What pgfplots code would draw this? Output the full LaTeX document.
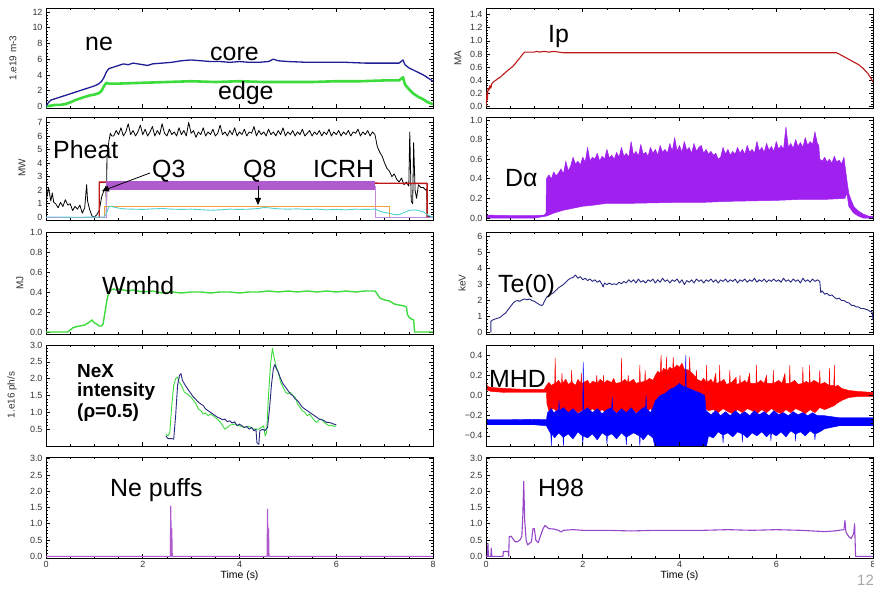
\documentclass[border=0pt]{standalone}
\usepackage{fontspec}
\setmainfont{Liberation Sans}
\usepackage{pgfplots}
\pgfplotsset{compat=1.18}
\usetikzlibrary{arrows.meta}
\definecolor{cblue}{RGB}{30,30,150}
\definecolor{cgreen}{RGB}{60,220,60}
\definecolor{cpurp}{RGB}{175,90,205}
\definecolor{cred}{RGB}{190,25,25}
\definecolor{corange}{RGB}{240,160,60}
\definecolor{ccyan}{RGB}{80,210,210}
\definecolor{cviol}{RGB}{160,32,240}
\definecolor{cnavy}{RGB}{40,40,130}
\definecolor{ch98}{RGB}{150,70,200}
\pgfplotsset{
  panel/.style={scale only axis, width=387bp, height=101bp, anchor=south west,
    xmin=0, xmax=8, xtick={0,2,4,6,8}, minor x tick num=3, xticklabels={},
    minor y tick num=4, tick align=inside,
    major tick length=4bp, minor tick length=2bp,
    axis line style={black, line width=0.8bp},
    every tick/.style={black, line width=0.6bp},
    ticklabel style={font=\fontsize{9}{9}\selectfont, text=black!80},
    /pgf/number format/assume math mode=true,
    every axis plot/.append style={line width=0.9bp, line join=round},
    clip=true},
  bottomrow/.style={xticklabels={0,2,4,6,8},
    xlabel={Time (s)}, xlabel style={font=\fontsize{10.5}{11}\selectfont, yshift=4bp}},
}
\newcommand\ann{\fontsize{25}{25}\selectfont}
\newcommand\ylab{\fontsize{10}{10}\selectfont\color{black!80}}
\begin{document}
\begin{tikzpicture}
\path[use as bounding box] (0,0) rectangle (874bp,591bp);
% ---------------- left column ----------------
\begin{axis}[panel, at={(46bp,483bp)}, height=100bp, ymin=-0.2, ymax=12.5,
  ytick={0,2,4,6,8,10,12}, yticklabels={0,2,4,6,8,10,12}]
\addplot[cgreen, line width=2.6bp] coordinates {(0,0)(0.1,0.1)(0.2,0.2)(0.3,0.2)(0.4,0.3)(0.5,0.5)(0.6,0.8)(0.7,1.0)(0.8,1.2)(0.9,1.4)(1.0,1.5)(1.1,1.7)(1.15,2.0)(1.2,2.6)(1.25,3.0)(1.3,2.9)(1.5,2.9)(2.0,3.0)(2.5,3.1)(3.0,3.2)(3.5,3.1)(4.0,3.2)(4.5,3.1)(5.0,3.1)(5.5,3.1)(6.0,3.2)(6.5,3.2)(7.0,3.3)(7.3,3.3)(7.38,3.7)(7.42,2.8)(7.5,2.2)(7.6,1.6)(7.7,1.2)(7.8,0.9)(7.9,0.5)(8.0,0.3)};
\addplot[cblue, line width=1.3bp] coordinates {(0,0)(0.05,0.5)(0.1,0.8)(0.2,1.0)(0.3,1.2)(0.4,1.4)(0.5,1.6)(0.6,1.8)(0.7,2.0)(0.8,2.2)(0.9,2.4)(1.0,2.6)(1.1,2.9)(1.15,3.2)(1.2,3.7)(1.25,4.4)(1.3,4.8)(1.4,5.0)(1.5,5.2)(1.6,5.4)(1.7,5.3)(1.8,5.5)(1.9,5.4)(2.0,5.3)(2.1,5.2)(2.2,5.4)(2.4,5.5)(2.6,5.6)(2.8,5.8)(3.0,5.9)(3.2,5.8)(3.4,5.7)(3.6,5.7)(3.8,5.6)(4.0,5.7)(4.2,5.6)(4.4,5.6)(4.6,5.7)(4.7,6.0)(4.8,5.8)(5.0,5.7)(5.4,5.6)(5.8,5.6)(6.2,5.6)(6.6,5.5)(7.0,5.5)(7.3,5.5)(7.38,5.9)(7.42,5.3)(7.5,4.9)(7.6,4.6)(7.7,4.3)(7.8,4.0)(7.9,3.6)(8.0,3.2)};
\end{axis}

\begin{axis}[panel, at={(46bp,371bp)}, height=103bp, ymin=-0.2, ymax=7.4,
  ytick={0,1,2,3,4,5,6,7}, yticklabels={0,1,2,3,4,5,6,7}]
\addplot[black, line width=0.8bp] coordinates {(0.0,2.0)(0.02,1.5)(0.05,2.2)(0.08,1.6)(0.1,1.2)(0.13,1.8)(0.16,1.1)(0.2,1.0)(0.25,0.7)(0.3,1.1)(0.35,0.8)(0.4,1.3)(0.45,0.9)(0.5,1.0)(0.55,0.5)(0.6,0.8)(0.65,0.6)(0.7,0.9)(0.75,0.3)(0.8,0.7)(0.84,2.4)(0.86,1.2)(0.9,0.6)(0.95,0.1)(1.0,0.0)(1.05,0.2)(1.1,0.5)(1.15,1.5)(1.2,2.0)(1.24,2.3)(1.25,0)(1.26,4.5)(1.3,5.6)(1.33,6.2)(1.36,6.0)(1.40,6.0)(1.45,6.4)(1.50,6.1)(1.55,6.6)(1.60,6.0)(1.65,6.3)(1.70,6.9)(1.75,6.1)(1.80,6.4)(1.85,6.0)(1.90,6.3)(1.95,6.8)(2.00,6.1)(2.05,6.5)(2.10,6.0)(2.15,6.3)(2.20,6.7)(2.25,6.0)(2.30,6.4)(2.35,6.1)(2.40,6.9)(2.45,6.2)(2.50,6.0)(2.55,6.5)(2.60,6.1)(2.65,6.3)(2.70,6.0)(2.75,6.6)(2.80,6.1)(2.85,6.4)(2.90,6.0)(2.95,7.0)(3.00,6.2)(3.05,6.4)(3.10,5.9)(3.15,6.3)(3.20,6.1)(3.25,6.6)(3.30,6.0)(3.35,6.3)(3.40,6.1)(3.45,6.5)(3.50,6.0)(3.55,6.2)(3.60,6.8)(3.65,6.1)(3.70,6.3)(3.75,6.0)(3.80,6.4)(3.85,6.1)(3.90,6.6)(3.95,6.0)(4.00,6.3)(4.05,6.1)(4.10,6.5)(4.15,6.0)(4.20,6.3)(4.25,6.2)(4.30,6.7)(4.35,6.0)(4.40,6.4)(4.45,6.1)(4.50,6.3)(4.55,6.0)(4.60,6.5)(4.65,6.1)(4.70,6.3)(4.75,6.0)(4.80,6.4)(4.85,6.1)(4.90,6.6)(4.95,6.0)(5.00,6.3)(5.05,6.1)(5.10,6.4)(5.15,6.0)(5.20,6.3)(5.25,6.1)(5.30,6.5)(5.35,6.0)(5.40,6.2)(5.45,6.4)(5.50,6.0)(5.55,6.3)(5.60,6.1)(5.65,6.4)(5.70,6.0)(5.75,6.3)(5.80,6.1)(5.85,6.5)(5.90,6.0)(5.95,6.3)(6.00,6.1)(6.05,6.4)(6.10,6.0)(6.15,6.3)(6.20,6.1)(6.25,6.4)(6.30,6.0)(6.35,6.3)(6.40,6.2)(6.45,6.5)(6.50,6.0)(6.55,6.3)(6.60,6.1)(6.65,6.4)(6.70,6.0)(6.75,6.3)(6.80,6.1)(6.85,5.2)(6.9,4.8)(6.95,4.5)(7.0,4.0)(7.05,3.6)(7.1,3.4)(7.15,3.0)(7.2,3.2)(7.25,2.8)(7.3,2.6)(7.35,2.9)(7.4,2.4)(7.45,2.6)(7.5,2.3)(7.52,6.3)(7.55,1.2)(7.58,1.0)(7.6,5.5)(7.63,2.0)(7.66,1.4)(7.7,2.4)(7.75,2.2)(7.8,2.2)(7.85,2.0)(7.87,2.1)(7.88,0.1)(8.0,0)};
\addplot[cpurp!70, line width=0.8bp] coordinates {(0,0.02)(1.25,0.02)(1.25,2.3)};
\addplot[cpurp!70, line width=0.8bp] coordinates {(6.8,2.3)(6.8,0.02)(8,0.02)};
\addplot[cred, line width=1.4bp] coordinates {(1.1,0)(1.1,2.6)(7.88,2.5)(7.88,0)};
\addplot[cpurp, line width=8.5bp] coordinates {(1.25,2.33)(6.8,2.33)};
\addplot[corange, line width=0.8bp] coordinates {(1.2,0)(1.2,0.82)(7.1,0.82)(7.1,0)};
\addplot[ccyan, line width=0.9bp] coordinates {(0,0.02)(0.3,0.02)(0.6,0.0)(1.2,0.02)(1.25,0.3)(1.3,0.8)(1.35,0.82)(1.4,0.75)(1.5,0.68)(1.6,0.62)(1.8,0.6)(2.0,0.58)(2.2,0.62)(2.4,0.65)(2.6,0.6)(2.8,0.58)(3.0,0.6)(3.2,0.56)(3.4,0.52)(3.6,0.55)(3.8,0.6)(4.0,0.58)(4.2,0.6)(4.4,0.65)(4.5,0.72)(4.6,0.7)(4.8,0.62)(5.0,0.6)(5.2,0.62)(5.4,0.58)(5.6,0.6)(5.8,0.55)(6.0,0.58)(6.2,0.55)(6.4,0.6)(6.6,0.58)(6.8,0.6)(6.9,0.45)(7.0,0.35)(7.1,0.3)(7.2,0.2)(7.3,0.2)(7.4,0.35)(7.5,0.5)(7.6,0.55)(7.7,0.5)(7.8,0.4)(7.9,0.15)(8.0,0.0)};
\end{axis}

\begin{axis}[panel, at={(46bp,257bp)}, height=102bp, ymin=-0.02, ymax=1.0,
  ytick={0,0.2,0.4,0.6,0.8,1.0}, yticklabels={0.0,0.2,0.4,0.6,0.8,1.0}]
\addplot[cgreen, line width=1.4bp] coordinates {(0,0)(0.45,0)(0.5,0.02)(0.55,0.04)(0.6,0.05)(0.7,0.06)(0.8,0.07)(0.9,0.1)(0.95,0.12)(1.0,0.09)(1.05,0.08)(1.1,0.06)(1.15,0.06)(1.18,0.08)(1.22,0.2)(1.26,0.32)(1.3,0.4)(1.35,0.42)(1.4,0.43)(1.45,0.42)(1.5,0.43)(1.6,0.42)(1.7,0.41)(1.8,0.42)(1.9,0.41)(2.0,0.4)(2.2,0.41)(2.4,0.39)(2.6,0.4)(2.8,0.39)(3.0,0.4)(3.2,0.4)(3.4,0.39)(3.6,0.4)(3.8,0.4)(4.0,0.39)(4.2,0.4)(4.4,0.4)(4.6,0.41)(4.8,0.4)(5.0,0.41)(5.2,0.4)(5.4,0.41)(5.6,0.4)(5.8,0.41)(6.0,0.4)(6.2,0.41)(6.4,0.4)(6.6,0.41)(6.8,0.41)(6.85,0.38)(6.9,0.34)(7.0,0.32)(7.1,0.31)(7.2,0.28)(7.3,0.27)(7.4,0.26)(7.45,0.25)(7.47,0.18)(7.5,0.15)(7.55,0.13)(7.6,0.12)(7.62,0)(8.0,0)};
\end{axis}

\begin{axis}[panel, at={(46bp,145bp)}, height=101bp, ymin=0, ymax=3.0,
  ytick={0.5,1.0,1.5,2.0,2.5,3.0}, yticklabels={0.5,1.0,1.5,2.0,2.5,3.0}]
\addplot[cgreen, line width=0.9bp] coordinates {(2.48,0.35)(2.52,0.3)(2.56,0.4)(2.6,1.2)(2.64,1.8)(2.68,2.0)(2.72,2.05)(2.75,1.9)(2.8,1.8)(2.86,1.6)(2.92,1.55)(3.0,1.45)(3.05,1.35)(3.1,1.25)(3.15,1.1)(3.2,1.05)(3.25,0.95)(3.3,0.98)(3.35,0.9)(3.4,0.95)(3.5,0.85)(3.6,0.72)(3.65,0.6)(3.7,0.5)(3.75,0.55)(3.8,0.62)(3.9,0.65)(4.0,0.6)(4.1,0.55)(4.2,0.58)(4.3,0.5)(4.4,0.5)(4.45,0.55)(4.5,0.6)(4.53,0.3)(4.56,0.4)(4.6,1.5)(4.64,2.4)(4.68,2.9)(4.72,2.6)(4.76,2.35)(4.8,2.2)(4.85,1.9)(4.9,1.75)(4.95,1.6)(5.0,1.55)(5.05,1.6)(5.1,1.5)(5.15,1.45)(5.2,1.25)(5.25,1.15)(5.3,1.05)(5.35,1.0)(5.4,0.9)(5.45,0.95)(5.5,0.85)(5.55,0.75)(5.6,0.7)(5.65,0.78)(5.7,0.8)(5.75,0.7)(5.8,0.65)(5.85,0.6)(5.9,0.62)(5.95,0.58)(6.0,0.6)};
\addplot[cnavy, line width=0.9bp] coordinates {(2.48,0.3)(2.52,0.22)(2.6,0.22)(2.64,0.2)(2.68,0.9)(2.72,1.8)(2.76,2.1)(2.79,2.15)(2.82,1.95)(2.88,1.8)(2.95,1.65)(3.0,1.55)(3.05,1.45)(3.1,1.38)(3.15,1.3)(3.2,1.25)(3.25,1.2)(3.3,1.1)(3.35,1.05)(3.4,1.0)(3.45,0.95)(3.5,0.9)(3.55,0.85)(3.6,0.82)(3.65,0.78)(3.7,0.8)(3.75,0.72)(3.8,0.75)(3.85,0.68)(3.9,0.72)(3.95,0.6)(4.0,0.65)(4.05,0.6)(4.1,0.55)(4.15,0.58)(4.2,0.5)(4.25,0.55)(4.3,0.45)(4.34,0.5)(4.36,0.1)(4.4,0.05)(4.42,0.45)(4.48,0.5)(4.52,0.45)(4.58,0.55)(4.62,1.1)(4.66,1.8)(4.7,2.3)(4.73,2.42)(4.76,2.3)(4.8,2.2)(4.85,2.0)(4.9,1.85)(4.95,1.75)(5.0,1.65)(5.05,1.55)(5.1,1.5)(5.15,1.4)(5.2,1.35)(5.25,1.25)(5.3,1.15)(5.35,1.1)(5.4,1.05)(5.45,1.0)(5.5,0.95)(5.55,0.9)(5.6,0.85)(5.65,0.8)(5.7,0.78)(5.75,0.75)(5.8,0.7)(5.85,0.7)(5.9,0.68)(5.95,0.65)(6.0,0.63)};
\end{axis}

\begin{axis}[panel, bottomrow, at={(46bp,33bp)}, height=101bp, ymin=-0.05, ymax=3.05,
  ytick={0,0.5,1.0,1.5,2.0,2.5,3.0}, yticklabels={0.0,0.5,1.0,1.5,2.0,2.5,3.0}]
\addplot[cpurp, line width=1.1bp] coordinates {(0,0)(2.57,0)(2.58,1.55)(2.59,0)(2.6,0.85)(2.61,0)(4.57,0)(4.58,1.45)(4.59,0)(4.6,0.85)(4.61,0)(8,0)};
\end{axis}

% ---------------- right column ----------------
\begin{axis}[panel, at={(486bp,483bp)}, height=100bp, ymin=-0.02, ymax=1.5,
  ytick={0,0.2,0.4,0.6,0.8,1.0,1.2,1.4}, yticklabels={0.0,0.2,0.4,0.6,0.8,1.0,1.2,1.4}]
\addplot[cred, line width=1.1bp] coordinates {(0,0)(0.02,0.22)(0.03,0.1)(0.04,0.28)(0.06,0.25)(0.08,0.32)(0.1,0.28)(0.12,0.35)(0.16,0.38)(0.2,0.4)(0.25,0.43)(0.3,0.45)(0.4,0.52)(0.5,0.58)(0.55,0.61)(0.6,0.65)(0.65,0.7)(0.7,0.74)(0.75,0.79)(0.8,0.83)(1.0,0.83)(1.05,0.84)(1.1,0.83)(1.2,0.84)(1.3,0.83)(1.4,0.84)(1.5,0.83)(1.6,0.82)(2.0,0.82)(3.0,0.82)(4.0,0.82)(5.0,0.82)(6.0,0.82)(7.0,0.82)(7.25,0.82)(7.3,0.8)(7.4,0.76)(7.5,0.72)(7.6,0.68)(7.7,0.64)(7.8,0.58)(7.9,0.5)(8.0,0.38)};
\end{axis}

\begin{axis}[panel, at={(486bp,371bp)}, height=103bp, ymin=-0.02, ymax=1.03,
  ytick={0,0.2,0.4,0.6,0.8,1.0}, yticklabels={0.0,0.2,0.4,0.6,0.8,1.0}, axis on top]
\addplot[cviol, fill=cviol, line width=0.5bp] coordinates {(0,0.03)(0.5,0.025)(1.0,0.025)(1.2,0.03)(1.24,0.05)
(1.25,0.40)(1.30,0.44)(1.35,0.40)(1.40,0.47)(1.45,0.43)(1.50,0.46)(1.55,0.50)(1.60,0.45)(1.65,0.58)(1.70,0.48)(1.75,0.53)(1.80,0.62)(1.85,0.55)(1.90,0.58)(1.95,0.54)(2.00,0.62)(2.05,0.57)(2.10,0.72)(2.15,0.58)(2.20,0.62)(2.25,0.60)(2.30,0.66)(2.35,0.58)(2.40,0.63)(2.45,0.60)(2.50,0.70)(2.55,0.61)(2.60,0.64)(2.65,0.60)(2.70,0.67)(2.75,0.62)(2.80,0.72)(2.85,0.63)(2.90,0.66)(2.95,0.62)(3.00,0.78)(3.05,0.64)(3.10,0.68)(3.15,0.63)(3.20,0.75)(3.25,0.65)(3.30,0.67)(3.35,0.63)(3.40,0.72)(3.45,0.66)(3.50,0.70)(3.55,0.64)(3.60,0.74)(3.65,0.67)(3.70,0.70)(3.75,0.66)(3.80,0.76)(3.85,0.68)(3.90,0.82)(3.95,0.68)(4.00,0.74)(4.05,0.67)(4.10,0.78)(4.15,0.69)(4.20,0.72)(4.25,0.66)(4.30,0.76)(4.35,0.68)(4.40,0.72)(4.45,0.74)(4.50,0.66)(4.55,0.70)(4.60,0.65)(4.65,0.68)(4.70,0.64)(4.75,0.66)(4.80,0.60)(4.85,0.62)(4.90,0.72)(4.95,0.65)(5.00,0.70)(5.05,0.64)(5.10,0.68)(5.15,0.65)(5.20,0.72)(5.25,0.66)(5.30,0.70)(5.35,0.65)(5.40,0.74)(5.45,0.67)(5.50,0.70)(5.55,0.66)(5.60,0.78)(5.65,0.68)(5.70,0.72)(5.75,0.67)(5.80,0.76)(5.85,0.69)(5.90,0.73)(5.95,0.68)(6.00,0.78)(6.05,0.70)(6.10,0.74)(6.15,0.70)(6.20,0.93)(6.25,0.72)(6.30,0.76)(6.35,0.71)(6.40,0.80)(6.45,0.73)(6.50,0.77)(6.55,0.72)(6.60,0.82)(6.65,0.74)(6.70,0.78)(6.75,0.75)(6.80,0.88)(6.85,0.76)(6.88,0.74)(6.90,0.60)(6.95,0.58)(7.00,0.62)(7.05,0.57)(7.10,0.60)(7.15,0.56)(7.20,0.63)(7.25,0.57)(7.30,0.59)(7.35,0.55)(7.40,0.62)(7.43,0.50)(7.47,0.35)(7.50,0.25)(7.55,0.18)(7.60,0.12)(7.70,0.07)(7.80,0.04)(7.90,0.02)(8.00,0.02)
(8,0.0)(7.8,0.0)(7.7,0.02)(7.6,0.05)(7.5,0.12)(7.47,0.22)(7.45,0.25)(7.42,0.2)(7.0,0.19)(6.5,0.19)(6.0,0.18)(5.0,0.17)(4.5,0.16)(4.0,0.16)(3.0,0.15)(2.5,0.15)(2.2,0.13)(2.0,0.12)(1.8,0.1)(1.6,0.08)(1.4,0.05)(1.25,0.02)(1.0,0.0)(0.5,0.0)(0,0.0)};
\end{axis}

\begin{axis}[panel, at={(486bp,257bp)}, height=102bp, ymin=-0.1, ymax=6.3,
  ytick={0,1,2,3,4,5,6}, yticklabels={0,1,2,3,4,5,6}]
\addplot[cnavy, line width=0.9bp] coordinates {(0.1,0)(0.1,0.7)(0.15,0.8)(0.2,0.85)(0.3,0.95)(0.35,1.1)(0.4,1.2)(0.45,1.4)(0.5,1.6)(0.55,1.8)(0.6,1.95)(0.65,2.0)(0.7,1.95)(0.75,2.05)(0.8,2.1)(0.85,2.05)(0.9,2.1)(0.95,2.0)(1.0,1.95)(1.05,1.85)(1.1,1.75)(1.15,1.68)(1.18,1.75)(1.2,1.9)(1.25,2.2)(1.3,2.3)(1.4,2.5)(1.5,2.8)(1.6,3.0)(1.7,3.3)(1.75,3.4)(1.8,3.45)(1.85,3.6)(1.9,3.4)(1.95,3.5)(2.0,3.3)(2.05,3.4)(2.1,3.25)(2.15,3.35)(2.2,3.2)(2.25,3.3)(2.3,3.15)(2.35,3.25)(2.4,3.0)(2.42,2.85)(2.45,3.1)(2.5,3.0)(2.55,3.1)(2.6,3.0)(2.65,3.05)(2.7,3.0)(2.75,3.15)(2.8,3.05)(2.85,3.2)(2.9,3.1)(2.95,3.3)(3.0,3.15)(3.05,3.3)(3.1,3.1)(3.15,3.35)(3.2,3.15)(3.25,3.25)(3.3,3.1)(3.35,3.3)(3.4,3.2)(3.45,3.35)(3.5,3.1)(3.55,3.3)(3.6,3.15)(3.65,3.4)(3.7,3.2)(3.75,3.3)(3.8,3.1)(3.85,3.3)(3.9,3.2)(3.95,3.35)(4.0,3.1)(4.05,3.3)(4.1,3.0)(4.15,3.25)(4.2,3.15)(4.25,3.3)(4.3,3.1)(4.35,3.35)(4.4,3.2)(4.45,3.3)(4.5,3.1)(4.55,3.3)(4.6,3.2)(4.65,3.35)(4.7,3.15)(4.75,3.3)(4.8,3.1)(4.85,3.3)(4.9,3.2)(4.95,3.35)(5.0,3.15)(5.05,3.3)(5.1,3.2)(5.15,3.35)(5.2,3.1)(5.25,3.3)(5.3,3.2)(5.35,3.35)(5.4,3.15)(5.45,3.3)(5.5,3.2)(5.55,3.4)(5.6,3.15)(5.65,3.3)(5.7,3.2)(5.75,3.35)(5.8,3.15)(5.85,3.3)(5.9,3.2)(5.95,3.35)(6.0,3.2)(6.05,3.3)(6.1,3.15)(6.15,3.4)(6.2,3.2)(6.25,3.3)(6.3,3.15)(6.35,3.35)(6.4,3.2)(6.45,3.3)(6.5,3.1)(6.55,3.4)(6.6,3.2)(6.65,3.3)(6.7,3.15)(6.75,3.35)(6.8,3.2)(6.85,3.3)(6.9,3.2)(6.92,2.5)(6.95,2.6)(7.0,2.4)(7.05,2.45)(7.1,2.3)(7.15,2.35)(7.2,2.2)(7.25,2.1)(7.3,2.15)(7.35,2.0)(7.4,2.0)(7.45,1.9)(7.5,1.85)(7.55,1.7)(7.6,1.7)(7.65,1.6)(7.7,1.6)(7.75,1.5)(7.8,1.5)(7.85,1.45)(7.9,1.4)(7.95,1.3)(7.98,1.3)(8.0,0.8)};
\end{axis}

\begin{axis}[panel, at={(486bp,145bp)}, height=101bp, ymin=-0.5, ymax=0.5,
  ytick={-0.4,-0.2,0,0.2,0.4}, yticklabels={−0.4,−0.2,0.0,0.2,0.4}, axis on top]
\addplot[red, fill=red, line width=0.4bp] coordinates {(0,0.14)(0.03,0.09)(0.1,0.08)(0.4,0.07)(0.8,0.06)(1.2,0.06)(1.25,0.1)(1.3,0.13)(1.35,0.1)(1.42,0.12)(1.43,0.37)(1.44,0.12)(1.5,0.15)(1.56,0.11)(1.57,0.22)(1.58,0.12)(1.65,0.16)(1.7,0.11)(1.76,0.13)(1.77,0.25)(1.78,0.13)(1.85,0.1)(1.9,0.16)(1.96,0.12)(1.97,0.22)(1.98,0.12)(2.1,0.15)(2.15,0.11)(2.2,0.14)(2.28,0.13)(2.29,0.2)(2.3,0.12)(2.36,0.16)(2.42,0.13)(2.43,0.2)(2.44,0.12)(2.5,0.15)(2.6,0.13)(2.64,0.17)(2.68,0.12)(2.79,0.13)(2.8,0.37)(2.81,0.13)(2.87,0.16)(2.93,0.13)(2.94,0.2)(2.95,0.13)(3.05,0.16)(3.1,0.12)(3.17,0.13)(3.18,0.3)(3.19,0.13)(3.28,0.14)(3.29,0.25)(3.3,0.14)(3.38,0.17)(3.45,0.15)(3.5,0.2)(3.55,0.24)(3.6,0.22)(3.62,0.4)(3.63,0.22)(3.67,0.27)(3.72,0.25)(3.73,0.38)(3.74,0.24)(3.8,0.28)(3.86,0.26)(3.87,0.38)(3.88,0.27)(3.95,0.3)(4.0,0.28)(4.05,0.32)(4.1,0.26)(4.2,0.25)(4.21,0.38)(4.22,0.24)(4.3,0.2)(4.34,0.18)(4.35,0.25)(4.36,0.16)(4.45,0.14)(4.5,0.17)(4.55,0.13)(4.56,0.3)(4.57,0.13)(4.65,0.16)(4.7,0.12)(4.75,0.22)(4.76,0.12)(4.82,0.13)(4.83,0.3)(4.84,0.13)(4.92,0.16)(4.97,0.11)(5.03,0.12)(5.04,0.25)(5.05,0.12)(5.12,0.15)(5.17,0.18)(5.18,0.11)(5.24,0.12)(5.25,0.2)(5.26,0.12)(5.35,0.15)(5.4,0.12)(5.45,0.22)(5.46,0.12)(5.58,0.12)(5.59,0.3)(5.6,0.12)(5.68,0.15)(5.75,0.12)(5.8,0.2)(5.81,0.12)(5.93,0.12)(5.94,0.25)(5.95,0.12)(6.05,0.15)(6.12,0.12)(6.18,0.22)(6.19,0.12)(6.27,0.12)(6.28,0.3)(6.29,0.12)(6.38,0.15)(6.45,0.11)(6.54,0.12)(6.55,0.28)(6.56,0.12)(6.62,0.14)(6.68,0.12)(6.69,0.3)(6.7,0.12)(6.78,0.15)(6.89,0.12)(6.9,0.25)(6.91,0.11)(7.0,0.13)(7.09,0.1)(7.1,0.27)(7.11,0.1)(7.19,0.1)(7.2,0.3)(7.21,0.09)(7.28,0.1)(7.35,0.07)(7.5,0.05)(7.7,0.04)(8.0,0.03)
(8.0,-0.01)(7.7,-0.01)(7.5,-0.02)(7.35,-0.05)(7.25,-0.08)(7.2,-0.1)(7.1,-0.12)(7.0,-0.14)(6.9,-0.12)(6.8,-0.17)(6.7,-0.14)(6.6,-0.18)(6.5,-0.15)(6.4,-0.13)(6.3,-0.17)(6.2,-0.14)(6.1,-0.18)(6.0,-0.16)(5.9,-0.13)(5.8,-0.17)(5.7,-0.14)(5.6,-0.18)(5.5,-0.15)(5.4,-0.13)(5.3,-0.17)(5.2,-0.14)(5.1,-0.18)(5.0,-0.16)(4.9,-0.13)(4.8,-0.17)(4.7,-0.14)(4.6,-0.15)(4.5,-0.12)(4.0,-0.1)(3.6,-0.12)(3.5,-0.16)(3.4,-0.13)(3.3,-0.18)(3.2,-0.14)(3.1,-0.17)(3.0,-0.13)(2.9,-0.18)(2.8,-0.14)(2.7,-0.17)(2.6,-0.13)(2.5,-0.18)(2.4,-0.14)(2.3,-0.17)(2.2,-0.13)(2.1,-0.18)(2.0,-0.14)(1.9,-0.17)(1.8,-0.13)(1.7,-0.18)(1.6,-0.14)(1.5,-0.17)(1.4,-0.13)(1.3,-0.15)(1.26,-0.08)(1.25,0.03)(0.8,0.03)(0.4,0.03)(0.1,0.04)(0,0.06)};
\addplot[blue, fill=blue, line width=0.4bp] coordinates {(0,-0.24)(0.5,-0.24)(1.0,-0.235)(1.25,-0.24)(1.27,-0.17)(1.35,-0.13)(1.4,-0.17)(1.5,-0.14)(1.51,-0.05)(1.52,-0.15)(1.6,-0.12)(1.7,-0.17)(1.8,-0.13)(1.9,-0.18)(2.0,-0.15)(2.01,0.33)(2.02,-0.15)(2.1,-0.12)(2.2,-0.17)(2.3,-0.13)(2.4,-0.18)(2.5,-0.14)(2.6,-0.12)(2.61,-0.02)(2.62,-0.14)(2.7,-0.18)(2.8,-0.13)(2.9,-0.17)(3.0,-0.12)(3.1,-0.18)(3.2,-0.14)(3.3,-0.11)(3.31,0.0)(3.32,-0.13)(3.4,-0.17)(3.45,-0.12)(3.5,-0.05)(3.6,0.0)(3.7,0.02)(3.8,0.06)(3.9,0.08)(4.0,0.12)(4.05,0.1)(4.12,0.08)(4.13,0.4)(4.14,0.08)(4.3,0.05)(4.45,0.02)(4.52,0.0)(4.55,-0.15)(4.65,-0.19)(4.75,-0.15)(4.85,-0.2)(4.95,-0.16)(5.05,-0.2)(5.15,-0.15)(5.25,-0.19)(5.35,-0.16)(5.45,-0.2)(5.55,-0.15)(5.65,-0.19)(5.75,-0.16)(5.85,-0.2)(5.95,-0.15)(6.05,-0.19)(6.15,-0.17)(6.25,-0.2)(6.35,-0.16)(6.45,-0.19)(6.55,-0.17)(6.65,-0.2)(6.75,-0.17)(6.85,-0.2)(7.0,-0.2)(7.3,-0.22)(8.0,-0.22)
(8.0,-0.3)(7.3,-0.3)(7.0,-0.33)(6.9,-0.36)(6.81,-0.38)(6.8,-0.44)(6.79,-0.38)(6.7,-0.35)(6.6,-0.4)(6.5,-0.36)(6.41,-0.38)(6.4,-0.45)(6.39,-0.38)(6.3,-0.35)(6.2,-0.41)(6.1,-0.36)(6.0,-0.4)(5.9,-0.37)(5.89,-0.45)(5.88,-0.37)(5.8,-0.41)(5.7,-0.36)(5.6,-0.4)(5.5,-0.37)(5.4,-0.42)(5.31,-0.38)(5.3,-0.46)(5.29,-0.38)(5.2,-0.36)(5.1,-0.41)(5.0,-0.37)(4.91,-0.39)(4.9,-0.47)(4.89,-0.39)(4.8,-0.36)(4.7,-0.42)(4.6,-0.4)(4.55,-0.52)(3.5,-0.52)(3.45,-0.42)(3.35,-0.38)(3.25,-0.44)(3.19,-0.4)(3.18,-0.5)(3.17,-0.4)(3.05,-0.37)(2.91,-0.41)(2.9,-0.49)(2.89,-0.41)(2.8,-0.37)(2.7,-0.43)(2.6,-0.38)(2.51,-0.4)(2.5,-0.48)(2.49,-0.4)(2.4,-0.37)(2.3,-0.44)(2.2,-0.38)(2.1,-0.42)(2.01,-0.4)(2.0,-0.5)(1.99,-0.4)(1.9,-0.36)(1.8,-0.43)(1.7,-0.38)(1.61,-0.41)(1.6,-0.5)(1.59,-0.41)(1.5,-0.37)(1.42,-0.42)(1.36,-0.38)(1.35,-0.5)(1.34,-0.38)(1.27,-0.32)(1.25,-0.3)(1.0,-0.29)(0.5,-0.29)(0,-0.29)};
\end{axis}

\begin{axis}[panel, bottomrow, at={(486bp,33bp)}, height=101bp, ymin=-0.05, ymax=3.05,
  ytick={0,0.5,1.0,1.5,2.0,2.5,3.0}, yticklabels={0.0,0.5,1.0,1.5,2.0,2.5,3.0}]
\addplot[ch98, line width=1.1bp] coordinates {(0,0)(0.03,0)(0.04,0.4)(0.05,0)(0.1,0)(0.11,0.25)(0.12,0)(0.35,0)(0.36,0.15)(0.46,0.15)(0.47,0)(0.48,0.6)(0.52,0.62)(0.55,0.55)(0.6,0.45)(0.65,0.45)(0.7,0.5)(0.74,0.6)(0.76,1.2)(0.78,2.3)(0.8,1.1)(0.83,0.5)(0.86,0.35)(0.9,0.4)(0.94,0.45)(0.97,0.85)(1.0,0.85)(1.03,0.5)(1.08,0.42)(1.12,0.6)(1.18,0.85)(1.22,0.95)(1.26,0.9)(1.3,0.85)(1.4,0.84)(1.5,0.8)(1.55,0.75)(1.6,0.8)(1.8,0.82)(2.0,0.8)(2.5,0.8)(3.0,0.78)(3.5,0.8)(4.0,0.8)(4.5,0.8)(5.0,0.82)(5.5,0.8)(6.0,0.82)(6.5,0.8)(7.0,0.76)(7.2,0.78)(7.4,0.82)(7.42,1.1)(7.44,0.75)(7.5,0.6)(7.55,0.55)(7.6,0.7)(7.62,1.0)(7.64,0)(8.0,0)};
\end{axis}

% ---------------- annotations ----------------
\node[anchor=base west, inner sep=0] at (85bp,540bp) {\ann ne};
\node[anchor=base west, inner sep=0] at (210bp,530bp) {\ann core};
\node[anchor=base west, inner sep=0] at (218bp,491bp) {\ann edge};
\node[anchor=base west, inner sep=0] at (53bp,432bp) {\ann Pheat};
\node[anchor=base west, inner sep=0] at (152bp,413bp) {\ann Q3};
\node[anchor=base west, inner sep=0] at (243bp,413bp) {\ann Q8};
\node[anchor=base west, inner sep=0] at (313bp,413bp) {\ann ICRH};
\draw[black, line width=0.8bp, -{Triangle[length=7bp,width=6bp]}] (150bp,418bp) -- (102bp,400bp);
\draw[black, line width=0.8bp, -{Triangle[length=7bp,width=6bp]}] (258bp,405bp) -- (258bp,386bp);
\node[anchor=base west, inner sep=0] at (102bp,296bp) {\ann Wmhd};
\node[anchor=base west, inner sep=0, font=\bfseries\fontsize{19}{19}\selectfont] at (77bp,213bp) {NeX};
\node[anchor=base west, inner sep=0, font=\bfseries\fontsize{19}{19}\selectfont] at (77bp,194bp) {intensity};
\node[anchor=base west, inner sep=0, font=\bfseries\fontsize{19}{19}\selectfont] at (77bp,173bp) {(ρ=0.5)};
\node[anchor=base west, inner sep=0] at (110bp,94bp) {\ann Ne puffs};
\node[anchor=base west, inner sep=0] at (548bp,548bp) {\ann Ip};
\node[anchor=base west, inner sep=0] at (505bp,404bp) {\ann Dα};
\node[anchor=base west, inner sep=0] at (498bp,298bp) {\ann Te(0)};
\node[anchor=base west, inner sep=0] at (489bp,203bp) {\ann MHD};
\node[anchor=base west, inner sep=0] at (538bp,94bp) {\ann H98};
% y-axis titles
\node[rotate=90] at (13bp,533bp) {\ylab 1.e19 m-3};
\node[rotate=90] at (22bp,423bp) {\ylab MW};
\node[rotate=90] at (20bp,308bp) {\ylab MJ};
\node[rotate=90] at (12bp,196bp) {\ylab 1.e16 ph/s};
\node[rotate=90] at (458bp,533bp) {\ylab MA};
\node[rotate=90] at (462bp,308bp) {\ylab keV};
\node[anchor=base west, inner sep=0, text=black!35, font=\fontsize{15}{15}\selectfont] at (857bp,6bp) {12};
\end{tikzpicture}
\end{document}
